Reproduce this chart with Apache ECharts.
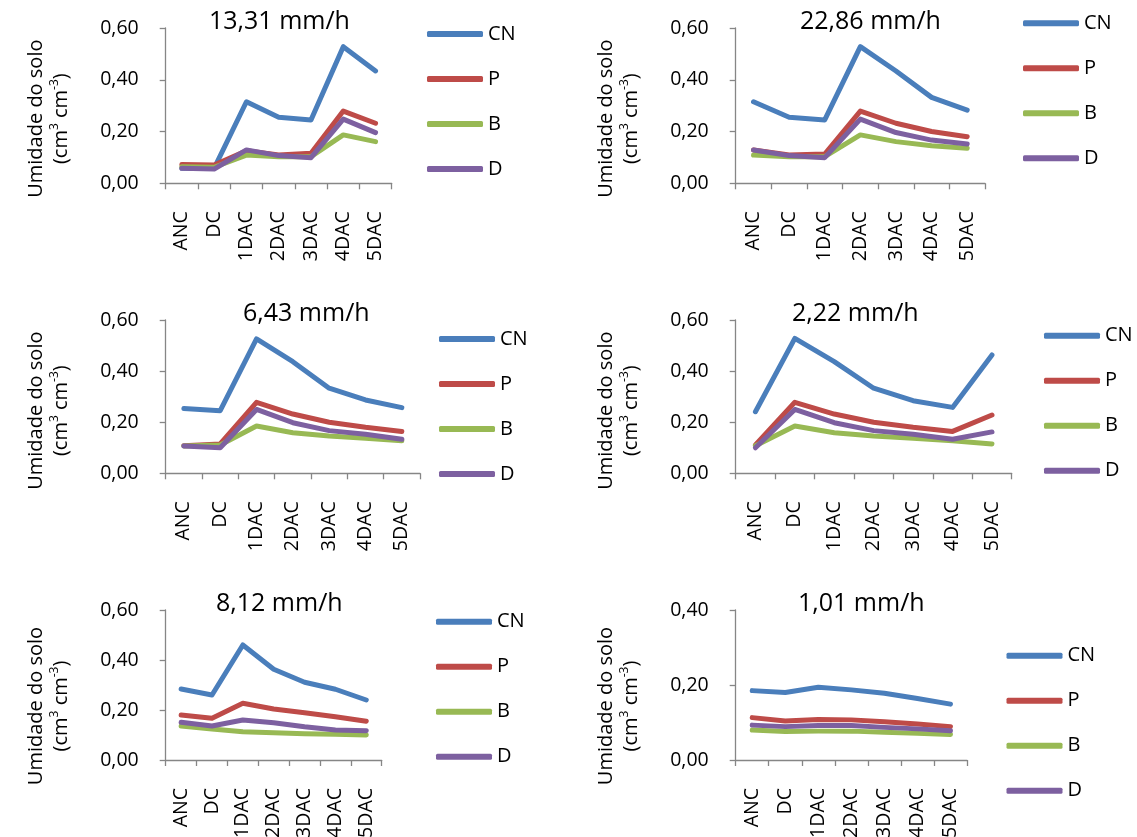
<!DOCTYPE html>
<html>
<head>
<meta charset="utf-8">
<script src="https://cdn.jsdelivr.net/npm/echarts@6/dist/echarts.min.js"></script>
<style>html,body{margin:0;padding:0;background:#fff}#c{width:1137px;height:837px}</style>
</head>
<body>
<div id="c"></div>
<script>
const categories = ['ANC', 'DC', '1DAC', '2DAC', '3DAC', '4DAC', '5DAC'];
const seriesNames = ['CN', 'P', 'B', 'D'];
const titles = ['13,31 mm/h', '22,86 mm/h', '6,43 mm/h', '2,22 mm/h', '8,12 mm/h', '1,01 mm/h'];
const yMax = [0.6, 0.6, 0.6, 0.6, 0.6, 0.4];
const yTicks = ['0,00', '0,20', '0,40', '0,60'];

// chart 1: 13,31 mm/h
const cn1 = [0.058, 0.058, 0.315, 0.255, 0.245, 0.528, 0.434];
const p1  = [0.073, 0.071, 0.126, 0.109, 0.116, 0.279, 0.232];
const b1  = [0.064, 0.062, 0.109, 0.103, 0.103, 0.187, 0.161];
const d1  = [0.058, 0.055, 0.129, 0.107, 0.099, 0.248, 0.196];
// chart 2: 22,86 mm/h
const cn2 = [0.315, 0.255, 0.245, 0.528, 0.434, 0.332, 0.283];
const p2  = [0.129, 0.109, 0.113, 0.279, 0.232, 0.200, 0.180];
const b2  = [0.109, 0.103, 0.103, 0.187, 0.161, 0.145, 0.135];
const d2  = [0.129, 0.107, 0.099, 0.248, 0.196, 0.167, 0.152];
// chart 3: 6,43 mm/h
const cn3 = [0.254, 0.245, 0.526, 0.437, 0.333, 0.287, 0.257];
const p3  = [0.108, 0.115, 0.278, 0.232, 0.200, 0.180, 0.164];
const b3  = [0.107, 0.111, 0.185, 0.159, 0.146, 0.137, 0.127];
const d3  = [0.107, 0.100, 0.250, 0.198, 0.167, 0.153, 0.133];
// chart 4: 2,22 mm/h
const cn4 = [0.241, 0.528, 0.437, 0.333, 0.284, 0.258, 0.463];
const p4  = [0.111, 0.278, 0.232, 0.200, 0.180, 0.164, 0.228];
const b4  = [0.108, 0.185, 0.159, 0.146, 0.137, 0.127, 0.115];
const d4  = [0.100, 0.250, 0.198, 0.167, 0.153, 0.133, 0.162];
// chart 5: 8,12 mm/h
const cn5 = [0.284, 0.260, 0.460, 0.363, 0.311, 0.283, 0.240];
const p5  = [0.180, 0.167, 0.227, 0.204, 0.189, 0.173, 0.155];
const b5  = [0.136, 0.124, 0.113, 0.109, 0.105, 0.103, 0.100];
const d5  = [0.151, 0.136, 0.160, 0.149, 0.133, 0.120, 0.117];
// chart 6: 1,01 mm/h
const cn6 = [0.185, 0.180, 0.194, 0.187, 0.178, 0.164, 0.149];
const p6  = [0.113, 0.104, 0.108, 0.107, 0.102, 0.096, 0.089];
const b6  = [0.080, 0.076, 0.077, 0.077, 0.074, 0.071, 0.068];
const d6  = [0.093, 0.089, 0.092, 0.092, 0.087, 0.083, 0.078];

const chartData = [[cn1, p1, b1, d1], [cn2, p2, b2, d2], [cn3, p3, b3, d3],
                   [cn4, p4, b4, d4], [cn5, p5, b5, d5], [cn6, p6, b6, d6]];

const colors = ['#4A7EBB', '#BE4B48', '#98B954', '#7D60A0'];
const FONT = 'Open Sans';

// layout
const grids = [
  {left: 165.7, top: 28, width: 226, height: 155.3},
  {left: 735.7, top: 28, width: 249.3, height: 155.3},
  {left: 165.7, top: 320, width: 254.3, height: 153.3},
  {left: 735.7, top: 320, width: 276, height: 153.3},
  {left: 165.7, top: 610, width: 216, height: 150},
  {left: 735.7, top: 610, width: 231.3, height: 150}
];
const titlePos = [[209, 9], [800, 9], [243, 301], [792, 301], [216, 591], [798, 591]];
const legendPos = [[427, 24], [1023, 13.3], [439, 329], [1044, 325.7], [436, 611.7], [1006.5, 645.7]];
const nameShift = [26, 26, 28, 28, 42, 42];

const axisGray = '#868686';
const option = {
  animation: false,
  color: colors,
  textStyle: {fontFamily: FONT},
  title: [], grid: [], xAxis: [], yAxis: [], legend: [], series: []
};

for (let i = 0; i < 6; i++) {
  option.title.push({
    text: titles[i], left: titlePos[i][0], top: titlePos[i][1], padding: 0,
    textStyle: {fontFamily: FONT, fontSize: 25, fontWeight: 'normal', color: '#000'}
  });
  option.grid.push(Object.assign({containLabel: false, outerBoundsMode: 'none'}, grids[i]));
  option.xAxis.push({
    type: 'category', gridIndex: i, data: categories, boundaryGap: true,
    axisLine: {lineStyle: {color: axisGray, width: 1.3}},
    axisTick: {show: true, inside: false, length: 6, alignWithLabel: false, lineStyle: {color: axisGray, width: 1.3}},
    axisLabel: {rotate: 90, margin: 28, fontFamily: FONT, fontSize: 19.5, color: '#000', interval: 0}
  });
  option.yAxis.push({
    type: 'value', gridIndex: i, min: 0, max: yMax[i], interval: 0.2,
    axisLine: {show: true, lineStyle: {color: axisGray, width: 1.3}},
    axisTick: {show: true, inside: false, length: 6, lineStyle: {color: axisGray, width: 1.3}},
    splitLine: {show: false},
    axisLabel: {margin: 27, fontFamily: FONT, fontSize: 19.5, color: '#000',
      formatter: v => yTicks[Math.round(v / 0.2)]},
    name: 'Umidade do solo\n{n|(cm}{s|3}{n| cm}{s|-3}{n|)}',
    nameLocation: 'middle', nameRotate: 90, nameGap: 92,
    nameTextStyle: {
      fontFamily: FONT, fontSize: 20, color: '#000', lineHeight: 25,
      padding: [0, nameShift[i], 0, 0],
      rich: {
        n: {fontFamily: FONT, fontSize: 20, color: '#000', lineHeight: 25},
        s: {fontFamily: FONT, fontSize: 12, color: '#000', lineHeight: 25, verticalAlign: 'top', padding: [0, 0, 8, 0]}
      }
    }
  });
  option.legend.push({
    orient: 'vertical', left: legendPos[i][0], top: legendPos[i][1], padding: 0,
    itemWidth: 56, itemHeight: 6, itemGap: 25, icon: 'roundRect',
    data: seriesNames.map(n => ({name: n})),
    selectedMode: false,
    textStyle: {fontFamily: FONT, fontSize: 20, color: '#000', lineHeight: 20}
  });
  chartData[i].forEach((vals, k) => {
    option.series.push({
      type: 'line', name: seriesNames[k], xAxisIndex: i, yAxisIndex: i,
      data: vals, symbol: 'none', smooth: false,
      lineStyle: {width: 5, color: colors[k], cap: 'round', join: 'round'},
      itemStyle: {color: colors[k]}
    });
  });
}

const chart = echarts.init(document.getElementById('c'), null, {renderer: 'canvas'});
chart.setOption(option);
</script>
</body>
</html>
